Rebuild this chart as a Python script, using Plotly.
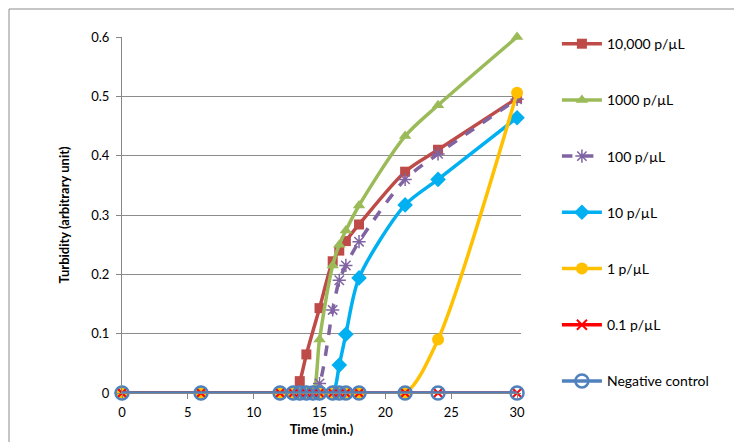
import plotly.graph_objects as go

# ---- data ----
t_10000 = [0, 6, 12, 13, 13.5, 14, 15, 16, 16.5, 17, 18, 21.5, 24, 30]
y_10000 = [0, 0, 0, 0, 0.02, 0.065, 0.143, 0.222, 0.24, 0.256, 0.284, 0.373, 0.41, 0.497]

t_1000 = [0, 6, 12, 13, 13.5, 14, 14.5, 15, 16, 16.5, 17, 18, 21.5, 24, 30]
y_1000 = [0, 0, 0, 0, 0, 0, 0, 0.09, 0.215, 0.25, 0.274, 0.316, 0.433, 0.485, 0.6]

t_100 = [0, 6, 12, 13, 13.5, 14, 14.5, 15, 16, 16.5, 17, 18, 21.5, 24, 30]
y_100 = [0, 0, 0, 0, 0, 0, 0, 0.016, 0.14, 0.19, 0.215, 0.255, 0.36, 0.403, 0.495]

t_10 = [0, 6, 12, 13, 13.5, 14, 14.5, 15, 16, 16.5, 17, 18, 21.5, 24, 30]
y_10 = [0, 0, 0, 0, 0, 0, 0, 0, 0, 0.047, 0.099, 0.194, 0.317, 0.36, 0.464]

t_1 = [0, 6, 12, 13, 13.5, 14, 14.5, 15, 16, 16.5, 17, 18, 21.5, 24, 30]
y_1 = [0, 0, 0, 0, 0, 0, 0, 0, 0, 0, 0, 0, 0, 0.09, 0.506]

t_01 = [0, 6, 12, 13, 13.5, 14, 14.5, 15, 16, 16.5, 17, 18, 21.5, 24, 30]
y_01 = [0, 0, 0, 0, 0, 0, 0, 0, 0, 0, 0, 0, 0, 0, 0]

t_neg = [0, 6, 12, 13, 13.5, 14, 14.5, 15, 16, 16.5, 17, 18, 21.5, 24, 30]
y_neg = [0, 0, 0, 0, 0, 0, 0, 0, 0, 0, 0, 0, 0, 0, 0]

names = ["10,000 p/µL", "1000 p/µL", "100 p/µL", "10 p/µL", "1 p/µL", "0.1 p/µL", "Negative control"]

fig = go.Figure()

def add(t, y, name, color, symbol, msize, dash="solid", shape="spline", mline=None, i=0, lw=3.5):
    marker = dict(symbol=symbol, size=msize, color=color)
    if mline:
        marker["line"] = mline
    fig.add_trace(go.Scatter(
        x=t, y=y, name=name, mode="lines+markers", cliponaxis=False,
        line=dict(color=color, width=lw, dash=dash, shape=shape, smoothing=0.8),
        marker=marker, legendgroup="g%d" % i,
    ))

add(t_10000, y_10000, names[0], "#BE4B48", "square", 10, i=0)
add(t_1000, y_1000, names[1], "#9BBB59", "triangle-up", 11, i=1)
add(t_100, y_100, names[2], "#8064A2", "asterisk-open", 11, dash="dash",
    mline=dict(color="#8064A2", width=1.5), i=2)
add(t_10, y_10, names[3], "#00B0F0", "diamond", 12, i=3)
add(t_1, y_1, names[4], "#FFC000", "circle", 12, i=4)
add(t_01, y_01, names[5], "#FF0000", "x-thin-open", 10, shape="linear",
    mline=dict(color="#FF0000", width=2), i=5)
add(t_neg, y_neg, names[6], "#4F81BD", "circle-open", 13, shape="linear",
    mline=dict(color="#4F81BD", width=2.5), i=6)

W, H = 742, 442
L, R, T, B = 114, 229, 29, 57
pw, ph = W - L - R, H - T - B

fig.update_layout(
    width=W, height=H,
    margin=dict(l=L, r=R, t=T, b=B),
    paper_bgcolor="white", plot_bgcolor="white",
    font=dict(family="Lato, Open Sans, sans-serif", size=13, color="#000000"),
    legend=dict(x=1.09, y=1.025, xanchor="left", yanchor="top",
                tracegroupgap=35, font=dict(size=14), itemwidth=40,
                maxheight=440,
                bgcolor="rgba(0,0,0,0)"),
    xaxis=dict(range=[0, 30.3], tick0=0, dtick=5, showgrid=False,
               showline=True, linecolor="#868686", linewidth=1,
               ticks="outside", ticklen=5, tickcolor="#868686",
               zeroline=False,
               title=dict(text="<b>Time (min.)</b>", font=dict(size=13), standoff=6)),
    yaxis=dict(range=[0, 0.6], tick0=0, dtick=0.1, tickformat="~g",
               showgrid=True, gridcolor="#8C8C8C", gridwidth=1,
               showline=True, linecolor="#868686", linewidth=1,
               ticks="outside", ticklen=5, tickcolor="#868686",
               zeroline=False,
               title=dict(text="<b>Turbidity (arbitrary unit)</b>", font=dict(size=13), standoff=18)),
)
fig.update_xaxes(ticklabelstandoff=2)
fig.update_yaxes(ticklabelstandoff=4)

fig.add_shape(type="rect", xref="paper", yref="paper",
              x0=(1 - L) / pw, x1=(W - 1 - L) / pw,
              y0=-(B - 1) / ph, y1=1 + (T - 1) / ph,
              line=dict(color="#8C8C8C", width=1), layer="below")

fig.write_html("out.html")
